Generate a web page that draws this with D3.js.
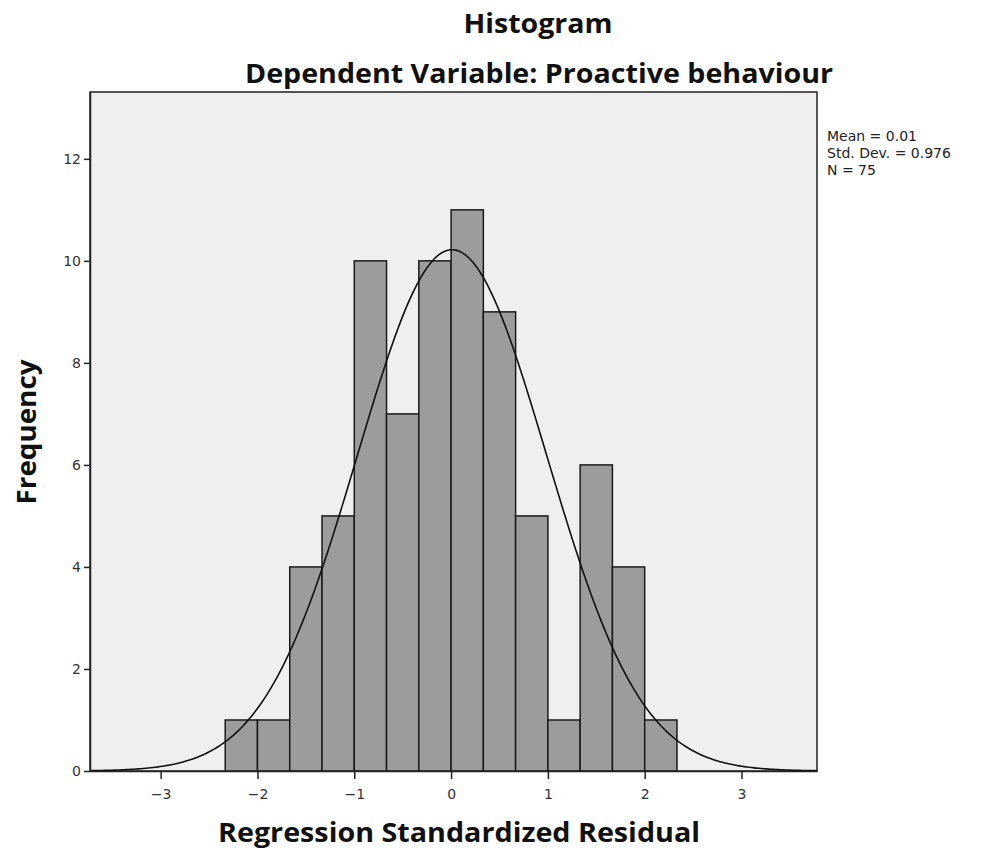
<!DOCTYPE html>
<html><head><meta charset="utf-8">
<script src="https://cdn.jsdelivr.net/npm/d3@7"></script>
<style>body{margin:0;background:#fff}</style>
</head><body>
<svg id="c" width="996" height="854"></svg>
<script>
const binStarts = [-2.3333,-2,-1.6667,-1.3333,-1,-0.6667,-0.3333,0,0.3333,0.6667,1,1.3333,1.6667,2];
const counts = [1,1,4,5,10,7,10,11,9,5,1,6,4,1];
const binWidth = 1/3;
const xTicks = [-3,-2,-1,0,1,2,3];
const yTicks = [0,2,4,6,8,10,12];
const statsMean = 0.01, statsSD = 0.976, statsN = 75;
const legendLines = ["Mean = 0.01","Std. Dev. = 0.976","N = 75"];

const svg = d3.select("#c");
const L=90,R=817,T=92,B=771;
const x = d3.scaleLinear().domain([-3.73,3.78]).range([L,R]);
const y = d3.scaleLinear().domain([0,13.31]).range([B,T]);

svg.append("rect").attr("x",L).attr("y",T).attr("width",R-L).attr("height",B-T)
  .attr("fill","#efefef").attr("stroke","#222").attr("stroke-width",1.5);

svg.append("g").selectAll("rect").data(counts).join("rect")
  .attr("x",(d,i)=>x(binStarts[i]))
  .attr("width",(d,i)=>x(binStarts[i]+binWidth)-x(binStarts[i]))
  .attr("y",d=>y(d)).attr("height",d=>B-y(d))
  .attr("fill","#9c9c9c").attr("stroke","#1a1a1a").attr("stroke-width",1.5);

// fitted normal curve from reported statistics
const pts = d3.range(0,301).map(i=>{
  const xv = -3.73 + i*(3.78+3.73)/300;
  const z = (xv-statsMean)/statsSD;
  return [xv, statsN*binWidth/(statsSD*Math.sqrt(2*Math.PI))*Math.exp(-0.5*z*z)];
});
svg.append("path").datum(pts).attr("fill","none").attr("stroke","#111").attr("stroke-width",1.6)
  .attr("d",d3.line().x(d=>x(d[0])).y(d=>y(d[1])));

const xa = svg.append("g").attr("transform",`translate(0,${B})`)
  .call(d3.axisBottom(x).tickValues(xTicks).tickSize(8).tickSizeOuter(0).tickPadding(10).tickFormat(d=>d<0?"\u2212"+(-d):d));
xa.select(".domain").attr("stroke","#222").attr("stroke-width",1.5);
xa.selectAll(".tick line").attr("stroke","#222").attr("stroke-width",1.5);
xa.selectAll("text").attr("font-family","'DejaVu Sans'").attr("font-size",14).attr("fill","#333");

const ya = svg.append("g").attr("transform",`translate(${L},0)`)
  .call(d3.axisLeft(y).tickValues(yTicks).tickSize(6).tickSizeOuter(0).tickPadding(3));
ya.select(".domain").attr("stroke","#222").attr("stroke-width",1.5);
ya.selectAll(".tick line").attr("stroke","#222").attr("stroke-width",1.5);
ya.selectAll("text").attr("font-family","'DejaVu Sans'").attr("font-size",14).attr("fill","#333");

function title(t,xp,yp,len,tr){
  const e = svg.append("text").attr("text-anchor","middle")
    .attr("font-family","'Open Sans'").attr("font-weight","bold").attr("font-size",26).attr("fill","#111")
    .attr("textLength",len).attr("lengthAdjust","spacingAndGlyphs").text(t);
  if(tr) e.attr("transform",tr); else e.attr("x",xp).attr("y",yp);
}
title("Histogram",538,33,149);
title("Dependent Variable: Proactive behaviour",539,83,588);
title("Regression Standardized Residual",459,842,482);
title("Frequency",0,0,145,"translate(36,432) rotate(-90)");

svg.append("g").selectAll("text").data(legendLines).join("text")
  .attr("x",827).attr("y",(d,i)=>141+i*17)
  .attr("font-family","'DejaVu Sans'").attr("font-size",14).attr("fill","#222").text(d=>d);
</script>
</body></html>
